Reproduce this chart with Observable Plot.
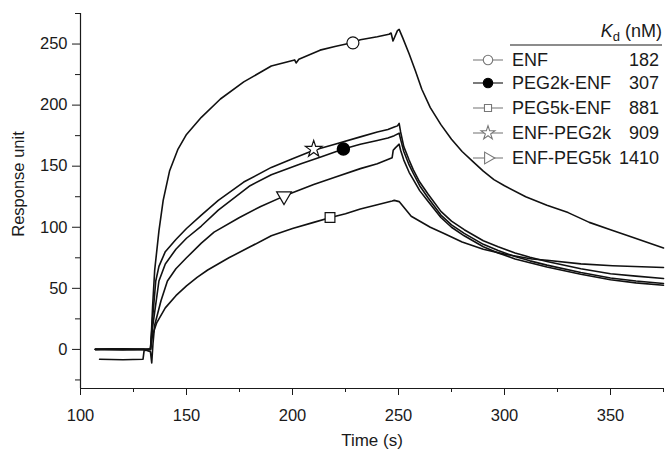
<!DOCTYPE html>
<html><head><meta charset="utf-8">
<script src="https://cdn.jsdelivr.net/npm/d3@7"></script>
<script src="https://cdn.jsdelivr.net/npm/@observablehq/plot@0.6"></script>
<style>body{margin:0;background:#fff} svg{display:block}</style>
</head><body><div id="chart"></div>
<script>
// ---- data ----
const xDomain = [100, 375];
const yDomain = [-32, 275];
const xMajor = [100, 150, 200, 250, 300, 350];
const xMinor = [125, 175, 225, 275, 325, 375];
const yMajor = [0, 50, 100, 150, 200, 250];
const yMinor = [-25, 25, 75, 125, 175, 225, 275];

const enfT = [107,115,125,130,133,133.5,134,135,137,139,142,146,150,157,166,177,190,201,201.7,203,213,220,228,232,240,245.5,246.5,247.4,249.5,250.3,252,255,258,261,265,270,275,280,285,290,295,300,310,320,330,340,350,360,375];
const enfV = [0,0.5,0,0,0,15,35,65,97,122,146,164,176,190,205,219,232,237,234.5,237.5,245,248,251,253.5,256,258,259,252.5,261,262,255,242,228,213,198,184,172,162,154,146,139,134,125,118,112,104,98,92,83];

const peg2kEnfT = [107,120,130,133,134,137,140,145,150,157,165,180,190,204,214,224,232,240,245,248,250.3,251,252.5,255,257,260,264,270,275,281,290,297,305,312,320,336,350,362,375];
const peg2kEnfV = [0,-0.5,0,0,18,56,70,82,91,101,114,134,143,152,158,164,168,171,173,175,177,172,162,151,144,134,124,110,102,95,86,81,76,72.5,69,63,58.5,56,54];

const peg5kEnfT = [109,120,129.5,130,132,133,134,136,140,145,150,155,160,170,180,190,200,210,218,225,232,240,247,248,250.3,256,265,272,280,290,300,313,320,336,351,375];
const peg5kEnfV = [-8,-8.5,-8,-1,0,0,12,22,34,44,52,59,65,75,84,93,99,104,108,111,115,118.5,121.5,122,121,109,100,94.5,88,82,78,74,73,70,68.5,67];

const enfPeg2kT = [107,120,130,133,134,135.5,137,140,145,150,157,165,177,190,200,210,220,232,240,245,248,249.5,250.3,251,252.5,255,257,260,264,270,275,281,290,297,305,312,320,336,350,362,375];
const enfPeg2kV = [0,0.5,0,0,25,56,68,80,90,99,110,122,137,149,156,163,168,174,178,180,182,183,185,178,166,155,147,137,127,113,105,98,89,84,79,75.5,72,66,62,60,58];

const enfPeg5kT = [107,120,130,133,133.6,134.2,135,138,141,145,150,157,163,175,185,196,210,220,232,240,247,247.5,248.5,250.3,251,252.5,255,257,260,264,270,275,281,290,297,305,312,320,336,350,362,375];
const enfPeg5kV = [0,0,0,-2,-11,5,20,40,56,66,75,87,96,108,117,125.5,135,141,148,152,157,163,165,168,163,155,145,139,130,121,108,100,93,84,79,74,71,67.5,61.5,57,54.5,52.5];

const seriesNames = ["ENF", "PEG2k-ENF", "PEG5k-ENF", "ENF-PEG2k", "ENF-PEG5k"];
const kdValues = [182, 307, 881, 909, 1410];
const markerT = [228.5, 224, 217.7, 210, 196];
const markerV = [251, 164, 108, 164, 125.5];

// ---- build tables ----
const curves = [
  [enfT, enfV], [peg2kEnfT, peg2kEnfV], [peg5kEnfT, peg5kEnfV],
  [enfPeg2kT, enfPeg2kV], [enfPeg5kT, enfPeg5kV]
].map(([T, V], i) => T.map((t, j) => ({series: seriesNames[i], t, v: V[j]})));
const lineData = curves.flat();
const markers = seriesNames.map((s, i) => ({series: s, t: markerT[i], v: markerV[i]}));

const FONT = "'Liberation Sans', Arial, Helvetica, sans-serif";

const plot = Plot.plot({
  width: 665, height: 453,
  marginLeft: 80, marginRight: 2, marginTop: 13, marginBottom: 65,
  style: {fontFamily: FONT, fontSize: "16.5px", color: "#1a1a1a", background: "#fff"},
  x: {domain: xDomain},
  y: {domain: yDomain},
  marks: [
    Plot.ruleY([yDomain[0]], {stroke: "#1a1a1a", strokeWidth: 1.2}),
    Plot.ruleX([xDomain[0]], {stroke: "#1a1a1a", strokeWidth: 1.2}),
    Plot.axisX({ticks: xMajor, tickSize: 7, tickPadding: 14, fontSize: 16.5, label: null, tickFormat: d => d}),
    Plot.axisX({ticks: xMinor, tickSize: 4, tickFormat: () => "", label: null}),
    Plot.axisY({ticks: yMajor, tickSize: 8, tickPadding: 5, fontSize: 16.5, label: null, tickFormat: d => d}),
    Plot.axisY({ticks: yMinor, tickSize: 5, tickFormat: () => "", label: null}),
    Plot.line(lineData, {x: "t", y: "v", z: "series", stroke: "#111", strokeWidth: 1.6, curve: "linear"}),
    Plot.dot(markers.filter(d => d.series === "ENF"), {x: "t", y: "v", symbol: "circle", r: 6, fill: "white", stroke: "#111", strokeWidth: 1.2}),
    Plot.dot(markers.filter(d => d.series === "PEG2k-ENF"), {x: "t", y: "v", symbol: "circle", r: 6, fill: "#000", stroke: "#000"}),
    Plot.dot(markers.filter(d => d.series === "PEG5k-ENF"), {x: "t", y: "v", symbol: "square", r: 5.5, fill: "white", stroke: "#111", strokeWidth: 1.2}),
    Plot.dot(markers.filter(d => d.series === "ENF-PEG2k"), {x: "t", y: "v", symbol: "star", r: 5.2, fill: "white", stroke: "#111", strokeWidth: 1.2}),
    Plot.dot(markers.filter(d => d.series === "ENF-PEG5k"), {x: "t", y: "v", symbol: "triangle", rotate: 180, r: 5.5, fill: "white", stroke: "#111", strokeWidth: 1.2})
  ]
});
document.getElementById("chart").appendChild(plot);

const svg = d3.select(plot);
// axis titles
svg.append("text").attr("x", 372).attr("y", 446).attr("text-anchor", "middle")
  .attr("font-family", FONT).attr("font-size", 17).attr("fill", "#1a1a1a").text("Time (s)");
svg.append("text").attr("transform", "translate(24,184) rotate(-90)").attr("text-anchor", "middle")
  .attr("font-family", FONT).attr("font-size", 16.5).attr("fill", "#1a1a1a").text("Response unit");

// legend
const lg = svg.append("g").attr("font-family", FONT).attr("font-size", 18).attr("fill", "#1a1a1a").attr("text-anchor", "start");
const hdr = lg.append("text").attr("x", 662).attr("y", 37).attr("text-anchor", "end");
hdr.append("tspan").attr("font-style", "italic").text("K");
hdr.append("tspan").attr("font-size", 13).attr("dy", 4).text("d");
hdr.append("tspan").attr("dy", -4).text(" (nM)");
lg.append("line").attr("x1", 510).attr("x2", 662).attr("y1", 45).attr("y2", 45).attr("stroke", "#1a1a1a").attr("stroke-width", 1.2);
const rowY = [60, 83, 108, 133, 158];
const legSym = [
  {type: d3.symbolCircle, size: 70, fill: "#fff", stroke: "#777", rot: 0},
  {type: d3.symbolCircle, size: 70, fill: "#000", stroke: "#000", rot: 0},
  {type: d3.symbolSquare, size: 50, fill: "#fff", stroke: "#777", rot: 0},
  {type: d3.symbolStar, size: 60, fill: "#fff", stroke: "#777", rot: 0},
  {type: d3.symbolTriangle, size: 60, fill: "#fff", stroke: "#777", rot: 90}
];
seriesNames.forEach((name, i) => {
  const y = rowY[i];
  lg.append("line").attr("x1", 473).attr("x2", 503).attr("y1", y).attr("y2", y)
    .attr("stroke", i === 1 ? "#222" : "#888").attr("stroke-width", 1.2);
  lg.append("path").attr("d", d3.symbol(legSym[i].type, legSym[i].size)())
    .attr("transform", `translate(488,${y}) rotate(${legSym[i].rot})`)
    .attr("fill", legSym[i].fill).attr("stroke", legSym[i].stroke).attr("stroke-width", 1.1);
  lg.append("text").attr("x", 512).attr("y", y).attr("dy", "0.36em").attr("text-anchor", "start").text(name);
  lg.append("text").attr("x", 659).attr("y", y).attr("dy", "0.36em").attr("text-anchor", "end").text(kdValues[i]);
});
</script></body></html>
